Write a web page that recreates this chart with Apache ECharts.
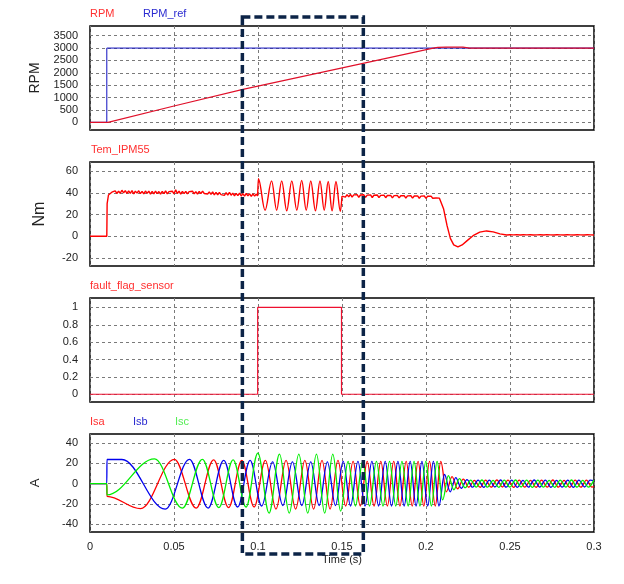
<!DOCTYPE html>
<html><head><meta charset="utf-8">
<script src="https://cdn.jsdelivr.net/npm/echarts@6/dist/echarts.min.js"></script>
<style>html,body{margin:0;padding:0;background:#fff}#c{width:624px;height:584px}</style>
</head><body><div id="c"></div>
<script>
// ---- tick labels ----
const xTicks = [0, 0.05, 0.1, 0.15, 0.2, 0.25, 0.3];
const rpmTicks = [0, 500, 1000, 1500, 2000, 2500, 3000, 3500];
const nmTicks = [-20, 0, 20, 40, 60];
const flagTicks = [0, 0.2, 0.4, 0.6, 0.8, 1];
const ampTicks = [-40, -20, 0, 20, 40];

// ---- speed ----
const rpmRefT = [0, 0.01, 0.01, 0.3];
const rpmRefV = [0, 0, 3000, 3000];
const rpmT = [0, 0.0107, 0.05, 0.091, 0.1625, 0.2043, 0.207, 0.212, 0.222, 0.226, 0.3];
const rpmV = [0, 0, 660, 1334, 2385, 3000, 3030, 3040, 3035, 3000, 3000];

// ---- torque ----
const tqHeadT = [0, 0.01, 0.0102, 0.011];
const tqHeadV = [0, 0, 30, 38];
const tqNoise1Start = 0.012, tqStep = 0.001;
const tqNoise1 = [38.5,40.6,39.2,41.8,39.4,41.5,39.6,42.4,39.9,42.0,39.4,41.7,39.6,42.0,39.1,41.6,39.7,41.9,39.2,41.4,39.0,41.7,39.5,41.5,38.9,41.3,39.1,41.6,39.3,41.2,38.8,41.4,39.2,41.8,39.0,41.1,39.3,41.5,39.1,42.7,39.4,41.5,38.9,41.3,39.2,41.4,39.0,41.1,39.3,41.5,39.1,41.0,38.8,41.3,39.2,41.6,39.4,41.1,38.9,40.8,38.5,40.9,38.2,40.4,38.1,40.3,38.4,40.0,37.7,40.1,38.0,40.4,37.8,39.7,37.3,39.5,37.4,39.8,37.1,39.3,36.9,39.4,37.2,39.1,36.7,39.0,37.0,38.9];
const tqOscT = [0.0998,0.1002,0.1042,0.1081,0.1111,0.1141,0.1171,0.1201,0.1231,0.1260,0.1287,0.1314,0.1342,0.1369,0.1394,0.1418,0.1441,0.1464,0.1490,0.1500];
const tqOscV = [37,53,24,51,24,51,23.5,51,24,51.5,24,51,23.5,51,24,50.5,23.5,50.5,23,37];
const tqNoise2Start = 0.150;
const tqNoise2 = [37,38.2,36.1,38.4,36.3,38.6,36.0,38.1,36.5,38.3,35.9,38.0,36.4,38.2,35.8,37.9,36.2,38.1,35.7,37.8,36.1,38.0,35.6,37.7,36.0,37.8,35.5,37.5,35.9,37.6,35.4,37.4,35.8,37.5,35.3,37.3,35.6,37.4,35.2,37.2,35.5,37.3,35.1,37.1,35.4,37.2,35.0,37.0,35.3,37.1,34.9,36.9,35.4,37.0,35.0,36.8,35.2,36.7,35.1];
const tqDecayT = [0.2085,0.2105,0.2125,0.2145,0.2165,0.219,0.2215,0.2245,0.228,0.232,0.236,0.240,0.244,0.248];
const tqDecayV = [35,25,10,-2,-8,-9.8,-8,-4,0.5,3.8,4.9,4.0,2.2,1.2];
const tqNoise3Start = 0.25;
const tqNoise3 = [1.4,0.6,1.3,0.5,1.5,0.7,1.2,0.4,1.4,0.6,1.3,0.5,1.4,0.7,1.1,0.4,1.3,0.6,1.4,0.5,1.2,0.7,1.5,0.5,1.3,0.6,1.1,0.4,1.4,0.7,1.3,0.5,1.2,0.6,1.4,0.4,1.3,0.7,1.2,0.5,1.4,0.6,1.3,0.4,1.2,0.7,1.4,0.5,1.3,0.6,1.1];

// ---- fault flag ----
const flagT = [0, 0.0998, 0.0998, 0.1497, 0.1497, 0.3];
const flagV = [0, 0, 1, 1, 0, 0];

// ---- phase currents (peaks / troughs) ----
const isaT = [0,0.01,0.0101,0.0301,0.0502,0.0632,0.0736,0.0825,0.0904,0.0977,0.1044,0.1107,0.1167,0.1224,0.1279,0.1331,0.1381,0.1429,0.1476,0.1522,0.1566,0.1609,0.1650,0.1691,0.1731,0.1770,0.1808,0.1845,0.1882,0.1918,0.1953,0.1987,0.2021,0.2055,0.2088,0.2121,0.2155,0.2188,0.2222,0.2255,0.2288,0.2322,0.2355,0.2388,0.2422,0.2455,0.2488,0.2522,0.2555,0.2588,0.2622,0.2655,0.2688,0.2722,0.2755,0.2788,0.2822,0.2855,0.2888,0.2922,0.2955,0.2988,0.3];
const isaV = [0,0,-12.5,-24.5,24,-24,23.5,-23.5,23,-23,23,-25,23,-25,23,-25,23,-25,23,-22,22,-22,22,-22,22,-22,22,-22,22,-22,22,-22,22,-22,22,-8,7,-5,4.5,-3.5,3.3,-3.6,3.4,-3.5,3.6,-3.3,3.5,-3.6,3.4,-3.5,3.3,-3.6,3.5,-3.4,3.6,-3.5,3.3,-3.6,3.4,-3.5,3.5,-3.4,-3];
const isbT = [0,0.01,0.0101,0.019,0.0448,0.0592,0.0703,0.0796,0.0879,0.0953,0.1022,0.1087,0.1148,0.1205,0.1261,0.1314,0.1364,0.1413,0.1461,0.1507,0.1551,0.1595,0.1637,0.1678,0.1718,0.1757,0.1795,0.1833,0.1870,0.1906,0.1941,0.1976,0.2010,0.2044,0.2077,0.2110,0.2144,0.2177,0.2210,0.2244,0.2277,0.2310,0.2344,0.2377,0.2410,0.2444,0.2477,0.2510,0.2544,0.2577,0.2610,0.2644,0.2677,0.2710,0.2744,0.2777,0.2810,0.2844,0.2877,0.2910,0.2944,0.2977,0.3];
const isbV = [0,0,23.8,23.8,-25,24,-24,23,-23,23,-22,21.5,-21.5,21.5,-21.5,21.5,-21.5,21.5,-21.5,22,-22,22,-22,22,-22,22,-22,22,-22,22,-22,22,-22,22,-22,9,-8,6,-4.5,4,-3.5,3.4,-3.6,3.5,-3.3,3.6,-3.5,3.4,-3.6,3.3,-3.5,3.6,-3.4,3.5,-3.6,3.3,-3.5,3.4,-3.6,3.5,-3.3,3.5,3];
const iscT = [0,0.01,0.0101,0.0384,0.0550,0.0669,0.0767,0.0852,0.0929,0.0999,0.1066,0.1128,0.1186,0.1243,0.1296,0.1348,0.1397,0.1445,0.1492,0.1536,0.1580,0.1623,0.1664,0.1705,0.1744,0.1783,0.1820,0.1857,0.1894,0.1929,0.1964,0.1999,0.2032,0.2066,0.2099,0.2133,0.2166,0.2199,0.2233,0.2266,0.2299,0.2333,0.2366,0.2399,0.2433,0.2466,0.2499,0.2533,0.2566,0.2599,0.2633,0.2666,0.2699,0.2733,0.2766,0.2799,0.2833,0.2866,0.2899,0.2933,0.2966,0.2999];
const iscV = [0,0,-11,24.5,-24,24,-23.5,23.5,-23,30,-29,29,-29,29,-29,29,-29,29,-27,22,-22,22,-22,22,-22,22,-22,22,-22,22,-22,22,-22,22,-16,8,-6,5,-4,3.5,-3.4,3.6,-3.5,3.3,-3.6,3.5,-3.4,3.6,-3.3,3.5,-3.6,3.4,-3.5,3.3,-3.6,3.5,-3.4,3.6,-3.5,3.3,-3.5,3.5];

// ---- build ----
const zip = (t, v) => t.map((x, i) => [x, v[i]]);
const sampled = (start, step, v) => v.map((y, i) => [+(start + i * step).toFixed(4), y]);
const torqueA = [].concat(zip(tqHeadT, tqHeadV), sampled(tqNoise1Start, tqStep, tqNoise1), [[0.0998, 37]]);
const torqueOsc = zip(tqOscT, tqOscV);
const torqueB = [].concat(sampled(tqNoise2Start, tqStep, tqNoise2), zip(tqDecayT, tqDecayV), sampled(tqNoise3Start, tqStep, tqNoise3));

const FONT = 'Liberation Sans, Arial, sans-serif';
const RED = '#ff0000', BLUE = '#0000ee', GREEN = '#00ee00';
const gridPos = [[26, 104], [162, 104], [298, 104], [434, 98]];
const yCfg = [
  {min: -311, max: 3892, ticks: rpmTicks, name: 'RPM', nameSize: 14, gap: 46},
  {min: -27.4, max: 68.4, ticks: nmTicks, name: 'Nm', nameSize: 16, gap: 42},
  {min: -0.089, max: 1.1085, ticks: flagTicks, name: '', nameSize: 14, gap: 40},
  {min: -47.6, max: 48.9, ticks: ampTicks, name: 'A', nameSize: 13, gap: 48}
];
const splitStyle = {show: true, lineStyle: {color: '#7a7a7a', width: 1, type: [3, 3]}};

const chart = echarts.init(document.getElementById('c'), null, {renderer: 'canvas'});
const line = (name, idx, data, color, smooth, w) => ({
  name, type: 'line', xAxisIndex: idx, yAxisIndex: idx, data, symbol: 'none', showSymbol: false,
  smooth: smooth ? 0.363 : false, smoothMonotone: 'x',
  lineStyle: {color, width: w || 1}, itemStyle: {color}, animation: false
});

const titleItem = (text, left, top, color) => ({text, left, top, padding: 0,
  textStyle: {color, fontSize: 11, fontWeight: 'normal', fontFamily: FONT}});

chart.setOption({
  animation: false,
  textStyle: {fontFamily: FONT},
  title: [
    titleItem('RPM', 90, 8, '#ff3030'),
    titleItem('RPM_ref', 143, 8, '#2a2ad0'),
    titleItem('Tem_IPM55', 91, 144, '#ff3030'),
    titleItem('fault_flag_sensor', 90, 280, '#ff3030'),
    titleItem('Isa', 90, 416, '#ff3030'),
    titleItem('Isb', 133, 416, '#2a2ad0'),
    titleItem('Isc', 175, 416, '#55ee55')
  ],
  grid: gridPos.map(([top, height]) => ({left: 90, top, width: 504, height, show: true,
    borderColor: '#000', borderWidth: 1.5, backgroundColor: 'transparent', containLabel: false})),
  xAxis: gridPos.map((g, i) => ({
    type: 'value', gridIndex: i, min: 0, max: 0.3, interval: 0.05,
    axisLine: {show: false}, axisTick: {show: false, customValues: xTicks},
    axisLabel: {show: i === 3, customValues: xTicks, fontSize: 11, color: '#222', margin: 9, fontFamily: FONT},
    splitLine: splitStyle,
    name: i === 3 ? 'Time (s)' : '', nameLocation: 'middle', nameGap: 22,
    nameTextStyle: {fontSize: 11, color: '#222', fontFamily: FONT}
  })),
  yAxis: yCfg.map((c, i) => ({
    type: 'value', gridIndex: i, min: c.min, max: c.max,
    axisLine: {show: false}, axisTick: {show: false, customValues: c.ticks},
    axisLabel: {customValues: c.ticks, fontSize: 11, color: '#222', margin: 12, fontFamily: FONT,
      formatter: v => String(v)},
    splitLine: splitStyle,
    name: c.name, nameLocation: 'middle', nameGap: c.gap,
    nameTextStyle: {fontSize: c.nameSize, color: '#222', fontFamily: FONT}
  })),
  series: [
    line('RPM_ref', 0, zip(rpmRefT, rpmRefV), '#1010c0', false),
    line('RPM', 0, zip(rpmT, rpmV), '#e0102a', false, 1.2),
    line('Tem_IPM55', 1, torqueA, RED, false, 1.4),
    line('Tem_IPM55 fault', 1, torqueOsc, RED, true, 1.4),
    line('Tem_IPM55 after', 1, torqueB, RED, false, 1.4),
    line('fault_flag_sensor', 2, zip(flagT, flagV), '#ee1030', false, 1.2),
    line('Isa', 3, zip(isaT, isaV), RED, true, 1.3),
    line('Isb', 3, zip(isbT, isbV), BLUE, true, 1.3),
    line('Isc', 3, zip(iscT, iscV), GREEN, true, 1.3)
  ]
});

// dashed annotation box around the fault window
const bx0 = chart.convertToPixel({xAxisIndex: 0}, 0.0907);
const bx1 = chart.convertToPixel({xAxisIndex: 0}, 0.1627);
chart.setOption({graphic: [{type: 'rect', z: 100, silent: true,
  shape: {x: bx0, y: 17, width: bx1 - bx0, height: 537},
  style: {fill: null, stroke: '#0c2447', lineWidth: 3.5, lineDash: [8, 4]}}]});
</script>
</body></html>
